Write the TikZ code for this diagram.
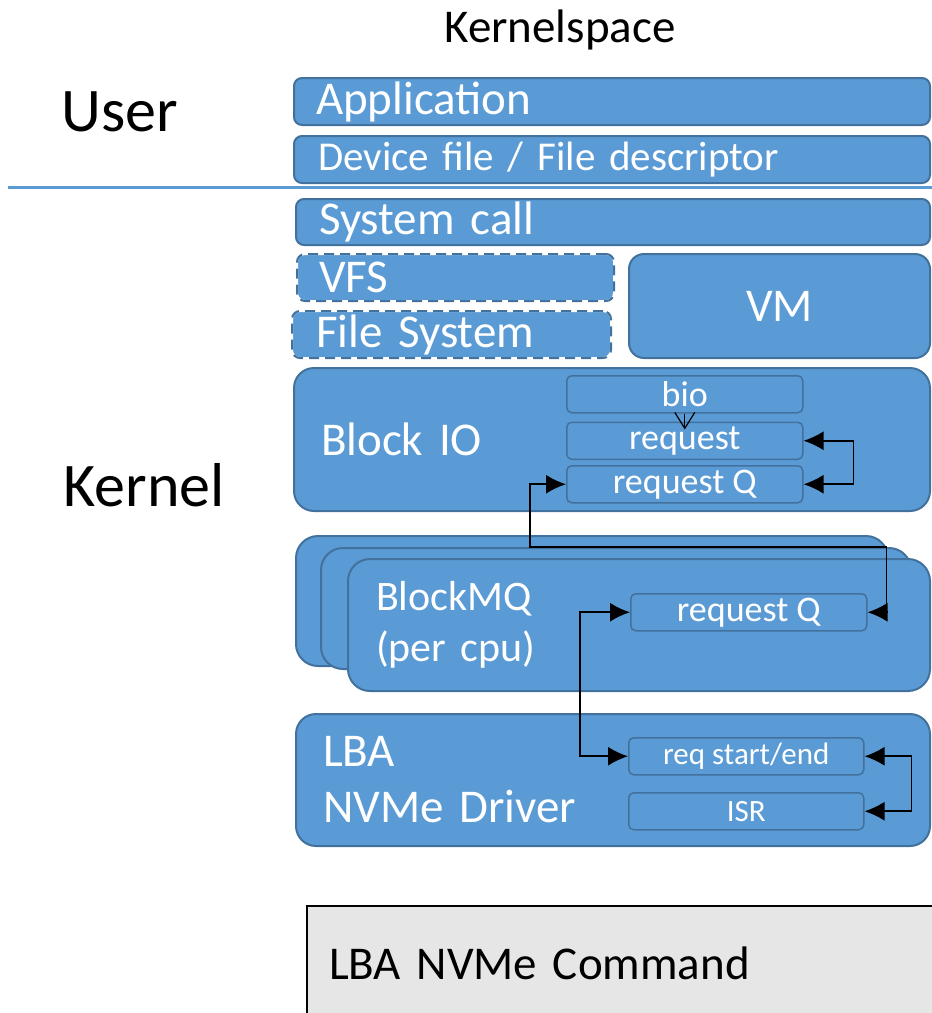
\documentclass[tikz,border=0pt]{standalone}
\usepackage{fontspec}
\setmainfont{Carlito}
\usetikzlibrary{arrows.meta,positioning}
\definecolor{boxblue}{HTML}{5B9BD5}
\definecolor{edgeblue}{HTML}{41719C}
\definecolor{cmdgray}{HTML}{E6E6E6}

\begin{document}
\begin{tikzpicture}[
    x=1pt, y=-1pt,
    node distance=8pt,
    layer/.style={draw=edgeblue, fill=boxblue, line width=2pt, rounded corners=8pt, text=white, anchor=north west, align=left, inner ysep=0pt, font=\fontsize{47}{56}\selectfont},
    fsbox/.style={layer, draw=white, postaction={draw=edgeblue, dash pattern=on 10pt off 6pt}},
    part/.style={draw=edgeblue, fill=boxblue, line width=1.5pt, rounded corners=5pt, text=white, inner sep=0pt, minimum height=37pt, font=\fontsize{36}{40}\selectfont},
    link/.style={arrows={Latex[length=20pt,width=19pt]-Latex[length=20pt,width=19pt]}, line width=1.8pt},
    convert/.style={arrows={-Straight Barb[length=16pt,width=20pt]}, line width=1.2pt, shorten >=-8pt},
    sepline/.style={draw=boxblue, line width=3pt}
]
\useasboundingbox (0,0) rectangle (932,1013);

\node[font=\fontsize{47}{56}\selectfont] (kspace) at (560,30) {Kernelspace};
\node[font=\fontsize{62}{70}\selectfont] (user) at (120,112) {User};
\node[font=\fontsize{62}{70}\selectfont] (kernel) at (144,485) {Kernel};

\coordinate (sepL) at (8,187);
\coordinate (sepR) at (932,187);
\draw[sepline] (sepL) -- (sepR);

% user space
\node[layer, minimum height=47pt, inner xsep=22pt, text width=592pt] (app) at (293,77) {Application};
\node[layer, minimum height=47pt, inner xsep=24pt, text width=588pt, font=\fontsize{41}{50}\selectfont] (devfile) at (293,135) {Device file / File descriptor};

% kernel
\node[layer, minimum height=46pt, inner xsep=23pt, text width=588pt] (syscall) at (295,198) {System call};
\node[fsbox, minimum height=47pt, inner xsep=22pt, text width=273pt] (vfs) at (296,253) {VFS};
\node[fsbox, minimum height=47pt, inner xsep=24pt, text width=271pt] (fs) at (291,310) {File System};
\node[layer, rounded corners=15pt, minimum height=104pt, inner xsep=0pt, text width=301pt, align=center] (vm) at (628,253) {VM};

\node[layer, rounded corners=20pt, minimum height=143pt, inner xsep=27pt, text width=582pt] (blockio) at (293,367) {Block IO};
\node[part, anchor=north west, minimum width=236pt] (bio) at (566,375) {bio};
\node[part, minimum width=236pt, below=8pt of bio] (request) {request};
\node[part, minimum width=236pt, below=5pt of request] (reqQ) {request Q};

\node[layer, rounded corners=22pt, minimum height=130pt, inner xsep=0pt, text width=592pt] (mq3) at (295,535) {};
\node[layer, rounded corners=22pt, minimum height=121pt, inner xsep=0pt, text width=590pt] (mq2) at (320,547) {};
\node[layer, rounded corners=22pt, minimum height=132pt, inner xsep=28pt, text width=526pt, font=\fontsize{42}{51}\selectfont] (mq1) at (347,558) {BlockMQ\\(per cpu)};
\node[part, anchor=north west, minimum width=236pt] (mqreq) at (630,593) {request Q};

\node[layer, rounded corners=20pt, minimum height=132pt, inner xsep=27pt, text width=580pt] (nvme) at (295,713) {LBA\\NVMe Driver};
\node[part, anchor=north west, minimum width=235pt, font=\fontsize{31}{36}\selectfont] (reqse) at (628,737) {req start/end};
\node[part, anchor=north west, minimum width=235pt, font=\fontsize{31}{36}\selectfont] (isr) at (628,792) {ISR};

% device
\node[draw=black, fill=cmdgray, line width=2pt, anchor=north west, minimum height=114pt, inner xsep=22pt, text width=606pt, align=left, font=\fontsize{47}{56}\selectfont] (cmd) at (306,905) {LBA NVMe Command};

% connectors
\coordinate (bend) at (530,547);
\draw[convert] (bio.south) -- (request.north);
\draw[link] (request.east) -- ++(50,0) |- (reqQ.east);
\draw[link] (mqreq.east) -- ++(19,0) |- (bend) |- (reqQ.west);
\draw[link] (mqreq.west) -- ++(-50,0) |- (reqse.west);
\draw[link] (reqse.east) -- ++(47,0) |- (isr.east);
\end{tikzpicture}
\end{document}
